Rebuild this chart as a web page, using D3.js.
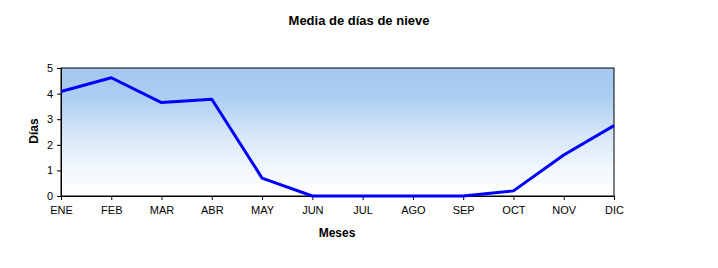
<!DOCTYPE html>
<html>
<head>
<meta charset="utf-8">
<script src="https://cdn.jsdelivr.net/npm/d3@7"></script>
<style>
  body { margin: 0; background: #fff; }
  text { font-family: "Liberation Sans", Arial, sans-serif; }
</style>
</head>
<body>
<div id="chart"></div>
<script>
// data
var months = ["ENE", "FEB", "MAR", "ABR", "MAY", "JUN", "JUL", "AGO", "SEP", "OCT", "NOV", "DIC"];
var snowDays = [4.08, 4.62, 3.65, 3.78, 0.7, 0.0, 0.0, 0.0, 0.0, 0.2, 1.6, 2.75];
var yTicks = [0, 1, 2, 3, 4, 5];

var margin = { top: 68, right: 104, bottom: 72, left: 61 };
var width = 718 - margin.left - margin.right,
    height = 268 - margin.top - margin.bottom;

var svg = d3.select("#chart").append("svg")
    .attr("width", 718)
    .attr("height", 268);

// gradient for plot background
var grad = svg.append("defs").append("linearGradient")
    .attr("id", "bg")
    .attr("x1", 0).attr("y1", 0).attr("x2", 0).attr("y2", 1);
grad.append("stop").attr("offset", "0%").attr("stop-color", "#a3c7ef");
grad.append("stop").attr("offset", "22%").attr("stop-color", "#abcdf1");
grad.append("stop").attr("offset", "50%").attr("stop-color", "#d4e5f7");
grad.append("stop").attr("offset", "80%").attr("stop-color", "#f3f8fd");
grad.append("stop").attr("offset", "100%").attr("stop-color", "#ffffff");

var g = svg.append("g")
    .attr("transform", "translate(" + margin.left + "," + margin.top + ")");

var x = d3.scalePoint().domain(months).range([0, width]);
var y = d3.scaleLinear().domain([0, 5]).range([height, 0]);

g.append("rect")
    .attr("width", width)
    .attr("height", height)
    .attr("fill", "url(#bg)")
    .attr("stroke", "#000")
    .attr("stroke-width", 1);

var xAxis = d3.axisBottom(x).tickSize(4).tickPadding(6);
var yAxis = d3.axisLeft(y).tickValues(yTicks).tickFormat(d3.format("d")).tickSize(4).tickPadding(4);

g.append("g")
    .attr("class", "axis x-axis")
    .attr("transform", "translate(0," + height + ")")
    .call(xAxis);

g.append("g")
    .attr("class", "axis y-axis")
    .call(yAxis);

g.selectAll(".axis text")
    .attr("font-size", "11px")
    .attr("font-family", "'Liberation Sans', Arial, sans-serif")
    .attr("fill", "#000");
g.selectAll(".axis path, .axis line")
    .attr("stroke", "#000");

var line = d3.line()
    .x(function(d, i) { return x(months[i]); })
    .y(function(d) { return y(d); });

g.append("path")
    .datum(snowDays)
    .attr("fill", "none")
    .attr("stroke", "#0000ff")
    .attr("stroke-width", 3)
    .attr("stroke-linejoin", "round")
    .attr("d", line);

// titles
svg.append("text")
    .attr("x", 359)
    .attr("y", 25)
    .attr("text-anchor", "middle")
    .attr("font-size", "13px")
    .attr("font-weight", "bold")
    .text("Media de días de nieve");

svg.append("text")
    .attr("x", 337)
    .attr("y", 237)
    .attr("text-anchor", "middle")
    .attr("font-size", "12px")
    .attr("font-weight", "bold")
    .text("Meses");

svg.append("text")
    .attr("transform", "translate(38,131) rotate(-90)")
    .attr("text-anchor", "middle")
    .attr("font-size", "12px")
    .attr("font-weight", "bold")
    .text("Días");
</script>
</body>
</html>
